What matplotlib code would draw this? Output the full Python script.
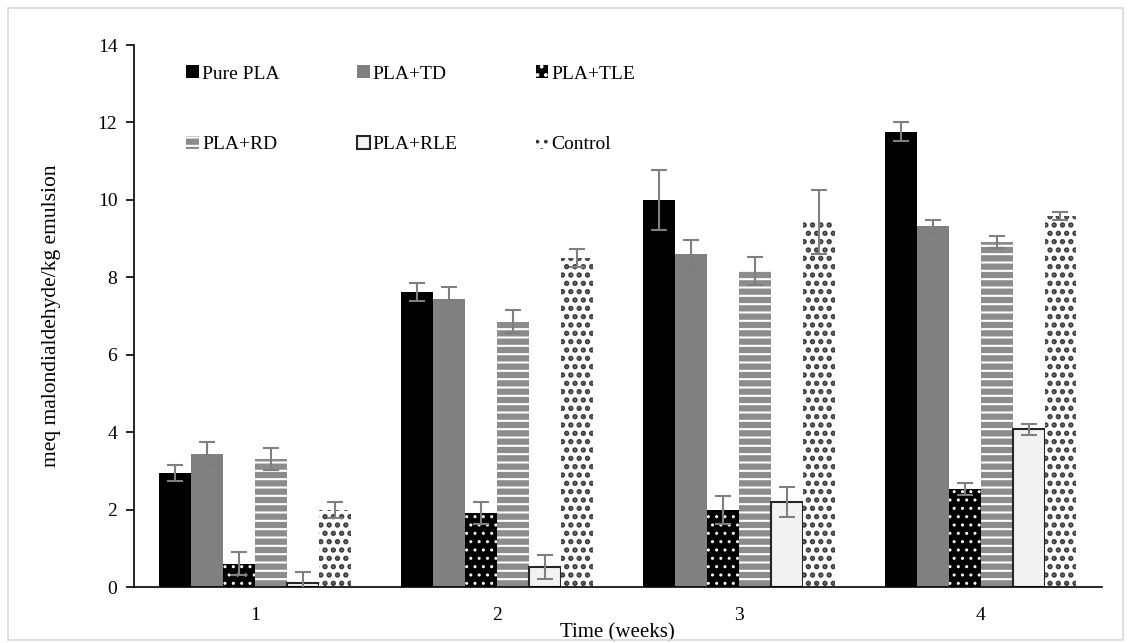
import numpy as np
import matplotlib.pyplot as plt
from matplotlib.patches import Rectangle

plt.rcParams['font.family'] = ['Liberation Serif', 'DejaVu Serif']
plt.rcParams['hatch.linewidth'] = 1.5

weeks = ['1', '2', '3', '4']
series = ['Pure PLA', 'PLA+TD', 'PLA+TLE', 'PLA+RD', 'PLA+RLE', 'Control']

pure_pla = [2.95, 7.62, 10.0, 11.76]
pla_td = [3.44, 7.44, 8.60, 9.32]
pla_tle = [0.60, 1.91, 1.99, 2.53]
pla_rd = [3.31, 6.85, 8.17, 8.91]
pla_rle = [0.10, 0.52, 2.20, 4.08]
control = [1.99, 8.50, 9.43, 9.59]

pure_pla_err = [0.21, 0.23, 0.78, 0.24]
pla_td_err = [0.30, 0.30, 0.37, 0.16]
pla_tle_err = [0.30, 0.29, 0.36, 0.15]
pla_rd_err = [0.29, 0.30, 0.36, 0.16]
pla_rle_err = [0.30, 0.30, 0.39, 0.14]
control_err = [0.21, 0.23, 0.83, 0.10]

values = [pure_pla, pla_td, pla_tle, pla_rd, pla_rle, control]
errors = [pure_pla_err, pla_td_err, pla_tle_err, pla_rd_err, pla_rle_err, control_err]

# face, hatch colour, hatch, hatch width
styles = [
    ('black', 'black', None, 1.0),
    ('#808080', '#808080', None, 1.0),
    ('black', 'white', '..', 1.0),
    ('#8c8c8c', 'white', '--', 1.5),
    ('#f2f2f2', '#262626', None, 1.0),
    ('white', '#3a3a3a', '..', 2.6),
]

fig = plt.figure(figsize=(11.31, 6.43), dpi=100)
ax = fig.add_axes([0.1185, 0.087, 0.8555, 0.843])

x = np.arange(len(weeks))
w = 0.132
handles = []
for i, (vals, errs) in enumerate(zip(values, errors)):
    face, hcol, hatch, hw = styles[i]
    pos = x + (i - 2.5) * w
    bars = ax.bar(pos, vals, w, color=face, hatch=hatch, edgecolor=hcol,
                  linewidth=1.5 if i == 4 else 0, label=series[i], zorder=2)
    for b in bars:
        if hasattr(b, 'set_hatch_linewidth'):
            b.set_hatch_linewidth(hw)
    ax.errorbar(pos, vals, yerr=errs, fmt='none', ecolor='#7f7f7f',
                elinewidth=1.5, capsize=6, capthick=1.5, zorder=3)
    handles.append(bars)

ax.set_xlim(-0.5, 3.5)
ax.set_ylim(0, 14)
ax.set_yticks(range(0, 15, 2))
ax.set_xticks(x)
ax.set_xticklabels(weeks)
ax.tick_params(axis='x', length=0, labelsize=14, pad=14)
ax.tick_params(axis='y', length=6, width=1.2, labelsize=14, pad=6)
ax.spines['top'].set_visible(False)
ax.spines['right'].set_visible(False)
ax.spines['left'].set_linewidth(1.2)
ax.spines['bottom'].set_linewidth(1.2)
ax.set_ylabel('meq malondialdehyde/kg emulsion', fontsize=15.5, labelpad=26)
ax.set_xlabel('Time (weeks)', fontsize=15, labelpad=0)

order = [0, 3, 1, 4, 2, 5]
ax.legend([handles[k] for k in order], [series[k] for k in order], ncol=3,
          loc='upper left', bbox_to_anchor=(0.036, 0.995), frameon=False,
          fontsize=14, handlelength=0.65, handleheight=0.65, handletextpad=0.15,
          labelspacing=2.75, columnspacing=4.0)

fig.patches.append(Rectangle((0.007, 0.005), 0.986, 0.983, transform=fig.transFigure,
                             fill=False, edgecolor='#d9d9d9', linewidth=1.2))

fig.savefig('out.png', dpi=100)
